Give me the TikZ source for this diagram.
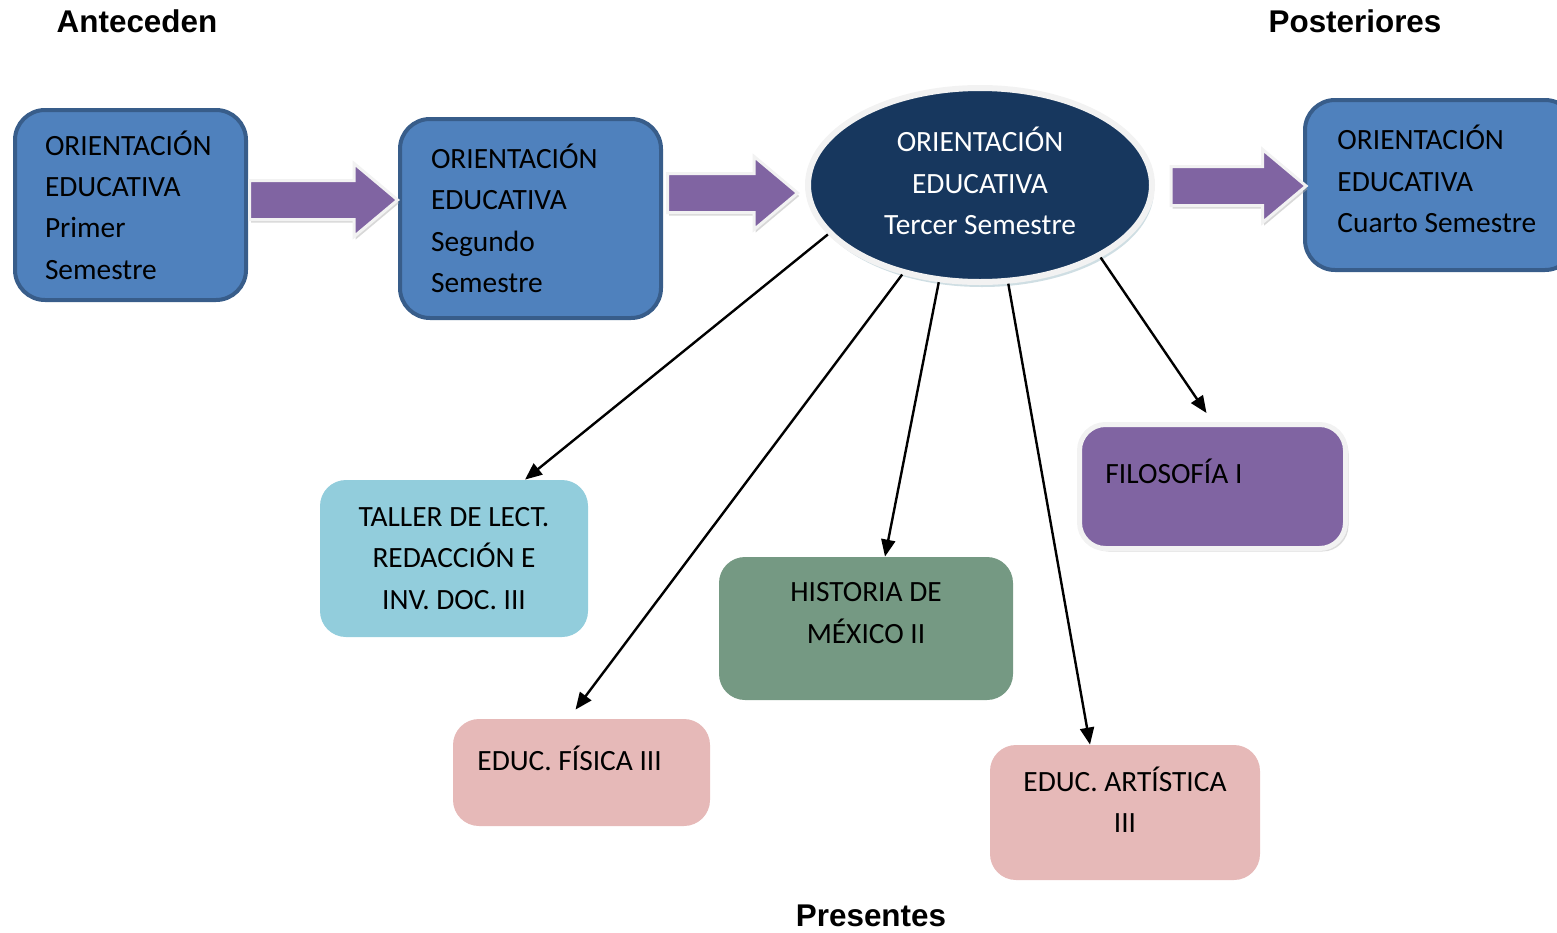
\documentclass[tikz,border=0pt]{standalone}
\usepackage{fontspec}
\setmainfont{Carlito}
\newfontfamily\titlefont{Liberation Sans}
\usetikzlibrary{shapes.geometric,shapes.arrows,arrows.meta,shadows}

\newcommand{\cajafont}{\fontsize{14.7}{20.7}\selectfont}

\begin{document}
\begin{tikzpicture}[x=0.5pt, y=-0.5pt]
		% Definición de colores
		\definecolor{oriazul}{RGB}{79, 129, 189}    % Azul de las materias de orientación
		\definecolor{oriborde}{RGB}{56, 93, 138}    % Borde azul oscuro
		\definecolor{marino}{RGB}{23, 55, 94}       % Elipse central
		\definecolor{morado}{RGB}{128, 100, 162}    % Flechas y Filosofía
		\definecolor{celeste}{RGB}{146, 205, 220}   % Taller de lectura
		\definecolor{verdegris}{RGB}{117, 153, 131} % Historia
		\definecolor{rosa}{RGB}{230, 185, 184}      % Educación física y artística
		\definecolor{borde}{RGB}{242, 242, 242}     % Contorno claro
		\definecolor{sombra}{RGB}{160, 190, 200}    % Sombra de la elipse
		
		\tikzset{
			caja/.style={rounded corners=15pt, fill=oriazul, draw=oriborde, line width=2pt,
				align=left, font=\cajafont, inner ysep=0pt},
			materia/.style={rounded corners=13pt, inner sep=0pt},
			texto/.style={font=\cajafont, inner sep=0pt},
			flecha/.style={single arrow, fill=morado, draw=borde, line width=1.5pt,
				minimum width=35pt, single arrow head extend=8.5pt, single arrow tip angle=80,
				inner xsep=0pt, inner ysep=9pt,
				drop shadow={shadow xshift=0.8pt, shadow yshift=-1.5pt, fill=gray!60}},
			conector/.style={-{Triangle[length=8.5pt, width=7pt]}, line width=1.2pt},
			titulo/.style={font=\titlefont\bfseries\fontsize{15.7}{18}\selectfont}
		}
		
		% --- Marco de la imagen ---
		\useasboundingbox (0, 0) rectangle (1557, 932);
		
		% --- Títulos ---
		\node[titulo] (ante) at (137, 21) {Anteceden};
		\node[titulo] (post) at (1355, 21) {Posteriores};
		\node[titulo] (pres) at (871, 916) {Presentes};
		
		% --- Semestres de Orientación Educativa ---
		\node[caja, minimum width=115.5pt, minimum height=95pt, text width=85.5pt, inner xsep=15pt]
			(uno) at (130.5, 205) {ORIENTACIÓN\\EDUCATIVA\\Primer\\Semestre};
		\node[caja, minimum width=130.5pt, minimum height=99.5pt, text width=99.5pt, inner xsep=15.5pt]
			(dos) at (530.5, 218.5) {ORIENTACIÓN\\EDUCATIVA\\Segundo\\Semestre};
		\node[ellipse, fill=marino, draw=borde, line width=3pt, minimum width=172pt, minimum height=97pt,
			inner sep=0pt, drop shadow={shadow xshift=1pt, shadow yshift=-2.5pt, fill=sombra}]
			(tercer) at (980, 185) {};
		\node[texto, text=white, align=center] (tercer-txt) at (980, 181) {ORIENTACIÓN\\EDUCATIVA\\Tercer Semestre};
		\node[caja, minimum width=135pt, minimum height=85pt] (cuatro) at (1440, 185) {};
		\node[texto, anchor=west, align=left] (cuatro-txt) at (1337, 179) {ORIENTACIÓN\\EDUCATIVA\\Cuarto Semestre};
		
		% --- Flechas gruesas entre semestres ---
		\node[flecha, minimum height=74pt] (f1) at (312, 200) {};
		\node[flecha, minimum height=65pt] (f2) at (721, 193) {};
		\node[flecha, minimum height=67.5pt] (f3) at (1227, 186) {};
		
		% --- Materias del tercer semestre ---
		\node[materia, fill=celeste, minimum width=134pt, minimum height=78.5pt, align=center, font=\cajafont]
			(taller) at (454, 558.5) {TALLER DE LECT.\\REDACCIÓN E\\INV. DOC. III};
		\node[materia, fill=verdegris, minimum width=147pt, minimum height=71.5pt] (hist) at (866, 628.5) {};
		\node[texto, align=center] (hist-txt) at (866, 613) {HISTORIA DE\\MÉXICO II};
		\node[materia, fill=rosa, minimum width=128.5pt, minimum height=53.5pt] (fisica) at (581.5, 772.5) {};
		\node[texto, anchor=west] (fisica-txt) at (477, 758) {EDUC. FÍSICA III};
		\node[materia, fill=rosa, minimum width=135pt, minimum height=67.5pt] (artis) at (1125, 812.5) {};
		\node[texto, align=center] (artis-txt) at (1125, 800) {EDUC. ARTÍSTICA\\III};
		\node[materia, fill=morado, draw=borde, line width=2.5pt, minimum width=133pt, minimum height=62pt,
			drop shadow={shadow xshift=1.5pt, shadow yshift=-1.5pt, fill=gray!55}]
			(filo) at (1212.5, 486.5) {};
		\node[texto, anchor=west] (filo-txt) at (1105, 471) {FILOSOFÍA I};
		
		% --- Conectores desde la elipse ---
		\draw[conector] (tercer.198) -- ([xshift=35.5pt]taller.north);
		\draw[conector] (tercer.229) -- ([xshift=-3pt, yshift=4.5pt]fisica.north);
		\draw[conector] (tercer.247) -- ([xshift=9.5pt]hist.north);
		\draw[conector] (tercer.286) -- ([xshift=-17.5pt]artis.north);
		\draw[conector] (tercer.329) -- ([xshift=-3pt, yshift=4.5pt]filo.north);
		
	\end{tikzpicture}
\end{document}
